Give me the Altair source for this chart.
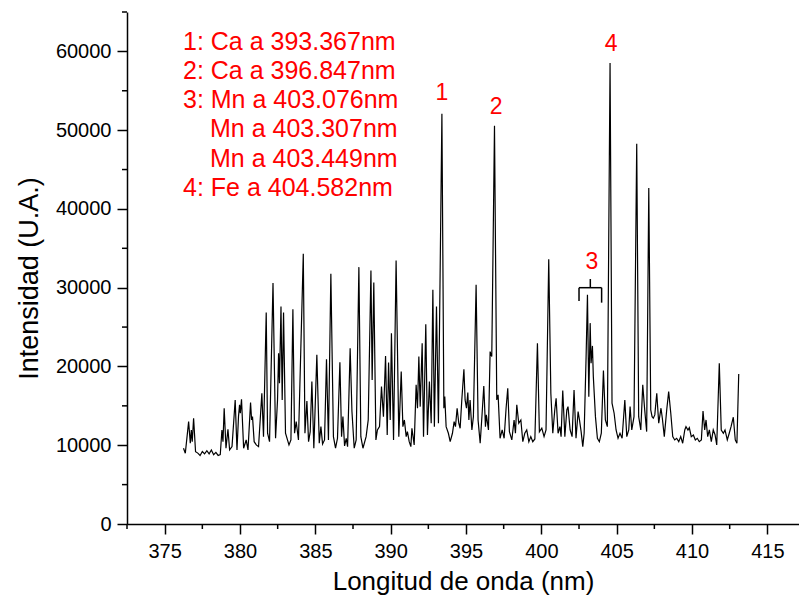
import altair as alt
import pandas as pd

# ---------------- data ----------------
wavelength = [
    376.25, 376.37, 376.59, 376.70, 376.77, 376.83, 376.92, 377.05, 377.20, 377.35,
    377.50, 377.65, 377.80, 377.95, 378.10, 378.25, 378.40, 378.55, 378.69, 378.80,
    378.87, 378.95, 379.07, 379.20, 379.31, 379.47, 379.68, 379.80, 379.90, 379.97,
    380.02, 380.10, 380.24, 380.41, 380.53, 380.70, 380.77, 380.83, 380.94, 381.08,
    381.23, 381.45, 381.56, 381.74, 381.83, 381.96, 382.19, 382.36, 382.49, 382.56,
    382.62, 382.72, 382.80, 382.89, 383.02, 383.25, 383.38, 383.51, 383.62, 383.73,
    383.88, 384.20, 384.31, 384.44, 384.55, 384.66, 384.77, 384.90, 385.10, 385.26,
    385.37, 385.48, 385.61, 385.74, 385.87, 386.03, 386.20, 386.34, 386.47, 386.63,
    386.74, 386.83, 386.94, 387.05, 387.14, 387.31, 387.43, 387.58, 387.71, 387.89,
    388.02, 388.16, 388.37, 388.51, 388.69, 388.77, 388.88, 389.02, 389.12, 389.26,
    389.39, 389.52, 389.66, 389.77, 389.86, 389.97, 390.05, 390.19, 390.36, 390.54,
    390.70, 390.81, 390.91, 391.03, 391.11, 391.23, 391.34, 391.41, 391.56, 391.69,
    391.78, 391.87, 391.96, 392.09, 392.18, 392.33, 392.44, 392.57, 392.69, 392.80,
    392.90, 393.04, 393.17, 393.40, 393.53, 393.59, 393.68, 393.83, 393.95, 394.10,
    394.21, 394.30, 394.41, 394.52, 394.61, 394.72, 394.86, 394.94, 395.03, 395.12,
    395.19, 395.27, 395.39, 395.49, 395.67, 395.80, 395.94, 396.07, 396.18, 396.29,
    396.35, 396.49, 396.60, 396.71, 396.89, 397.04, 397.13, 397.26, 397.40, 397.53,
    397.66, 397.77, 397.88, 398.04, 398.19, 398.28, 398.37, 398.50, 398.64, 398.77,
    398.90, 399.03, 399.17, 399.30, 399.43, 399.57, 399.74, 399.87, 400.03, 400.18,
    400.31, 400.49, 400.63, 400.76, 400.89, 400.98, 401.11, 401.23, 401.31, 401.42,
    401.56, 401.69, 401.77, 401.91, 402.04, 402.17, 402.30, 402.44, 402.53, 402.64,
    402.75, 402.84, 402.97, 403.06, 403.15, 403.24, 403.30, 403.39, 403.45, 403.59,
    403.72, 403.85, 403.98, 404.12, 404.25, 404.38, 404.56, 404.69, 404.83, 404.96,
    405.09, 405.22, 405.36, 405.54, 405.67, 405.80, 405.89, 406.00, 406.15, 406.33,
    406.46, 406.60, 406.73, 406.86, 406.99, 407.13, 407.26, 407.35, 407.43, 407.53,
    407.66, 407.79, 407.94, 408.03, 408.16, 408.32, 408.45, 408.59, 408.72, 408.85,
    408.98, 409.12, 409.25, 409.38, 409.52, 409.60, 409.73, 409.82, 409.95, 410.09,
    410.22, 410.35, 410.48, 410.62, 410.73, 410.84, 410.93, 411.04, 411.15, 411.28,
    411.41, 411.53, 411.64, 411.81, 411.94, 412.08, 412.19, 412.34, 412.47, 412.59,
    412.74, 412.87, 412.98, 413.10,
]
intensity = [
    9620, 8980, 13000, 10250, 11940, 10450, 13430, 9180, 9000, 8700,
    9200, 8900, 9300, 8900, 9400, 8800, 9100, 8700, 8800, 11940,
    10450, 14700, 9620, 12030, 9400, 9820, 15750, 9400, 13630, 15120,
    14060, 15840, 9620, 10670, 9400, 15410, 13210, 13630, 10450, 10040,
    9820, 16600, 11090, 26840, 11520, 10450, 30580, 10880, 15750, 21690,
    17870, 27600, 15750, 26840, 11520, 10040, 10670, 27270, 11520, 13000,
    10670, 34300, 11520, 15620, 10450, 11730, 18080, 9620, 21470, 10250,
    12360, 10160, 10670, 20920, 10670, 31760, 11090, 9620, 10880, 20540,
    11090, 13630, 9910, 10880, 9820, 22320, 14270, 9620, 10670, 32610,
    11090, 9620, 11090, 13210, 32180, 18290, 30650, 10670, 11940, 12360,
    17440, 13630, 21340, 11310, 20490, 13210, 24220, 10670, 33450, 11090,
    19350, 12360, 13210, 11090, 11730, 10450, 9820, 12160, 10040, 17660,
    14700, 21250, 14900, 22950, 11090, 25370, 11310, 18080, 12790, 29730,
    12360, 27600, 12790, 52080, 14700, 16170, 12360, 11520, 10450, 11520,
    13000, 12360, 14700, 12790, 12160, 15750, 19650, 15750, 14700, 16680,
    13210, 15750, 11940, 13630, 30360, 13210, 10250, 14060, 17530, 12360,
    13850, 11940, 21890, 21250, 50560, 15750, 16390, 10880, 11940, 10880,
    14700, 17240, 11730, 10670, 13210, 11520, 15120, 12790, 13210, 10450,
    11520, 11940, 10450, 11090, 10450, 10800, 22950, 11700, 12160, 11090,
    11940, 33620, 16600, 11520, 14480, 15960, 11520, 12360, 11090, 16940,
    11090, 14480, 14900, 11940, 11090, 17020, 10880, 14270, 13210, 11730,
    9820, 11520, 21250, 29090, 16170, 25500, 20410, 22610, 18710, 13630,
    10880, 10450, 11520, 19480, 13210, 12360, 58520, 15330, 14060, 11940,
    10880, 11520, 10880, 15750, 11090, 11940, 14900, 11940, 13630, 48270,
    13630, 11940, 17660, 14480, 11730, 42640, 14480, 13630, 13430, 13850,
    16600, 12790, 14700, 13430, 11090, 14480, 16810, 14060, 11090, 10670,
    10880, 10450, 11090, 10250, 11940, 12360, 11940, 12230, 11090, 11310,
    10670, 10880, 10450, 10670, 14350, 11940, 13210, 11090, 11940, 10450,
    11940, 11310, 10040, 20410, 11940, 11520, 11940, 10670, 11520, 12360,
    13560, 10670, 10250, 19050,
]

x_ticks = [375, 380, 385, 390, 395, 400, 405, 410, 415]
x_minor = [372.5, 377.5, 382.5, 387.5, 392.5, 397.5, 402.5, 407.5, 412.5]
y_ticks = [0, 10000, 20000, 30000, 40000, 50000, 60000]
y_minor = [5000, 15000, 25000, 35000, 45000, 55000, 65000]

legend_lines = [
    "1: Ca a 393.367nm",
    "2: Ca a 396.847nm",
    "3: Mn a 403.076nm",
    "Mn a 403.307nm",
    "Mn a 403.449nm",
    "4: Fe a 404.582nm",
]
legend_indented = [False, False, False, True, True, False]

peak_labels = ["1", "2", "3", "4"]
peak_label_wl = [393.40, 397.00, 403.35, 404.63]
peak_label_int = [53770, 52080, 32350, 60085]

# bracket over the Mn triplet (label 3)
bracket_x1 = [402.5, 402.5, 404.0, 403.25]
bracket_x2 = [404.0, 402.5, 404.0, 403.25]
bracket_y1 = [30000, 30000, 30000, 30000]
bracket_y2 = [30000, 28300, 28100, 31100]

# ---------------- chart ----------------
FONT = "Liberation Sans"
RED = "#ff0000"
W, H = 672, 512

x_scale = alt.Scale(domain=[372.5, 417.1], nice=False, zero=False)
y_scale = alt.Scale(domain=[0, 65000], nice=False, zero=False)

spec_df = pd.DataFrame({"wl": wavelength, "I": intensity})

line = alt.Chart(spec_df).mark_line(color="black", strokeWidth=1.2, clip=True).encode(
    x=alt.X("wl:Q", scale=x_scale,
            axis=alt.Axis(values=x_ticks, title="Longitud de onda (nm)", format="d",
                          labelPadding=7, titlePadding=7, titleFontSize=26)),
    y=alt.Y("I:Q", scale=y_scale,
            axis=alt.Axis(values=y_ticks, title="Intensidad (U.A.)", format="d",
                          labelPadding=6, titlePadding=12, titleFontSize=27,
                          titleY=266)),
)

# all other layers reuse the same field names so that they share the one axis
xminor_df = pd.DataFrame({"wl": x_minor})
xminor = alt.Chart(xminor_df).mark_rule(color="black", strokeWidth=1.5).encode(
    x=alt.X("wl:Q", scale=x_scale),
    y=alt.value(H), y2=alt.value(H + 5),
)
yminor_df = pd.DataFrame({"I": y_minor})
yminor = alt.Chart(yminor_df).mark_rule(color="black", strokeWidth=1.5).encode(
    y=alt.Y("I:Q", scale=y_scale),
    x=alt.value(-5), x2=alt.value(0),
)

bracket_df = pd.DataFrame({"wl": bracket_x1, "wl2": bracket_x2,
                           "I": bracket_y1, "I2": bracket_y2})
bracket = alt.Chart(bracket_df).mark_rule(color="black", strokeWidth=1.5).encode(
    x=alt.X("wl:Q", scale=x_scale), x2="wl2:Q",
    y=alt.Y("I:Q", scale=y_scale), y2="I2:Q",
)

peaks_df = pd.DataFrame({"lab": peak_labels, "wl": peak_label_wl, "I": peak_label_int})
peak_text = alt.Chart(peaks_df).mark_text(
    color=RED, font=FONT, fontSize=23, align="center", baseline="alphabetic"
).encode(
    x=alt.X("wl:Q", scale=x_scale),
    y=alt.Y("I:Q", scale=y_scale),
    text="lab:N",
)

legend_layers = []
for i, (txt, ind) in enumerate(zip(legend_lines, legend_indented)):
    legend_layers.append(
        alt.Chart(pd.DataFrame({"t": [txt]})).mark_text(
            color=RED, font=FONT, fontSize=25, align="left", baseline="alphabetic"
        ).encode(
            x=alt.value(56 if not ind else 83),
            y=alt.value(37.5 + i * 29.3),
            text="t:N",
        )
    )

chart = alt.layer(line, xminor, yminor, bracket, peak_text, *legend_layers).properties(
    width=W, height=H,
    padding={"left": 127, "top": 12, "right": 0, "bottom": 83},
    autosize=alt.AutoSizeParams(type="none"),
).configure_view(stroke=None).configure_axis(
    grid=False,
    domainColor="black", domainWidth=1.5,
    tickColor="black", tickWidth=1.5, tickSize=10,
    labelFont=FONT, labelFontSize=20, labelColor="black",
    titleFont=FONT, titleFontSize=25, titleFontWeight="normal", titleColor="black",
    labelFlush=False, labelOverlap=False,
)

chart.save("out.html", embed_options={"renderer": "svg", "actions": False})
